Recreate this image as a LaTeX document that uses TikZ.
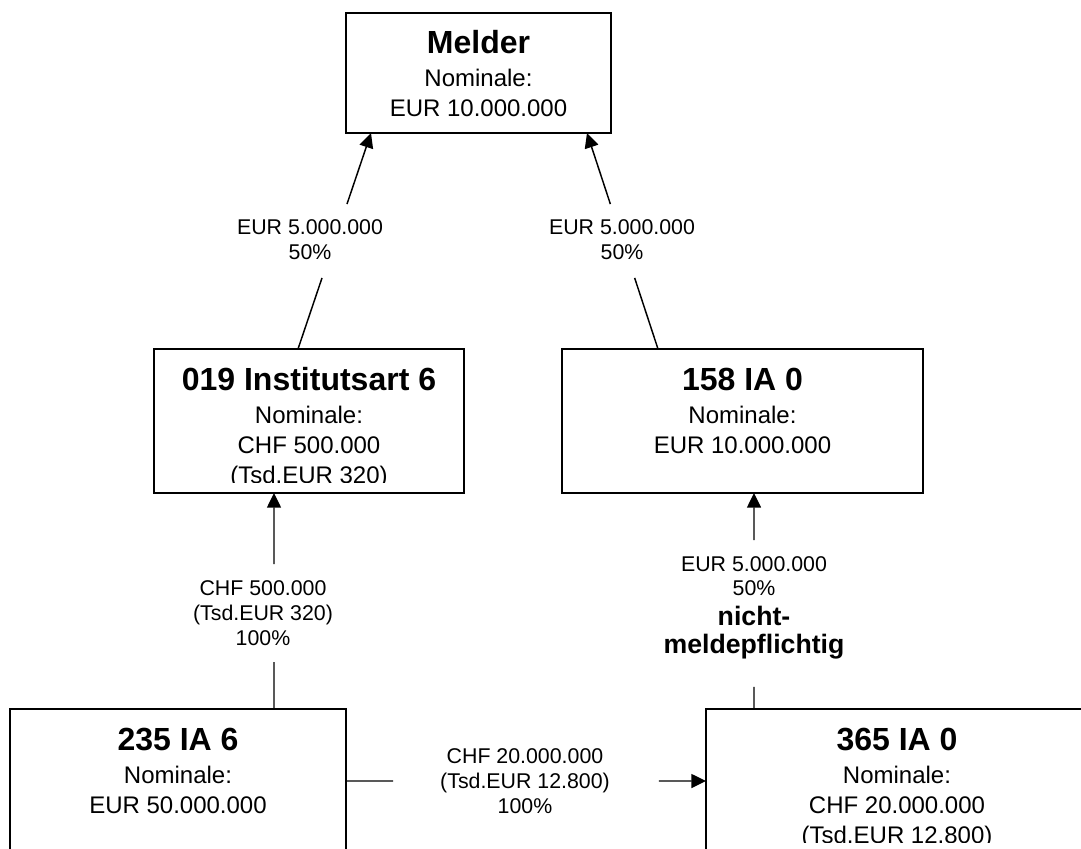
\documentclass[tikz,border=0pt]{standalone}
\usepackage{fontspec}
\setmainfont{Liberation Sans}
\usetikzlibrary{arrows.meta,calc,fit}

% one line of a multi-line text block: size, baseline distance, text
\newcommand\entryline[3]{{\fontsize{#1}{#2}\selectfont #3\par}}

\tikzset{
  frame/.style={draw=black, line width=1.5pt, inner sep=0pt, outer sep=0pt, rectangle},
  entry/.style={anchor=base, inner sep=0pt, outer sep=0pt, align=flush center, text=black},
  conn/.style={draw=black, line width=1.1pt},
  arrowconn/.style={conn, -{Triangle[length=11pt,width=10.5pt]}},
  tag/.style={anchor=base, inner sep=0pt, outer sep=0pt, align=flush center,
    text width=240pt, text=black, font=\fontsize{16}{18.75}\selectfont},
}

\begin{document}
\begin{tikzpicture}[x=0.75pt, y=-0.75pt]
\useasboundingbox (0,0) rectangle (1081,849);
\fill[white] (0,0) rectangle (1081,849);
\clip (0,0) rectangle (1081,849);

% ---------------- boxes ----------------
\node[frame, fit={(346,13) (611,133)}]  (melder) {};
\node[frame, fit={(154,349) (464,493)}] (b019) {};
\node[frame, fit={(562,349) (923,493)}] (b158) {};
\node[frame, fit={(10,709) (346,900)}]  (b235) {};
\node[frame, fit={(706,709) (1088,900)}] (b365) {};

% ---------------- box texts ----------------
\node[entry, text width=198.75pt] (t-melder) at ($(melder.north)+(0,41)$)
  {\entryline{24}{28}{\bfseries Melder}\entryline{18}{24.75}{Nominale:}\entryline{18}{22.5}{EUR 10.000.000}};

\begin{scope}
  \clip (b019.north west) rectangle ($(b019.north east)+(0,133)$);
  \node[entry, text width=232.5pt] (t019) at ($(b019.north)+(0,41)$)
    {\entryline{24}{28}{\bfseries 019 Institutsart 6}\entryline{18}{24.75}{Nominale:}\entryline{18}{22.5}{CHF 500.000}\entryline{18}{22.5}{(Tsd.EUR 320)}};
\end{scope}

\node[entry, text width=270.75pt] (t158) at ($(b158.north)+(0,41)$)
  {\entryline{24}{28}{\bfseries 158 IA 0}\entryline{18}{24.75}{Nominale:}\entryline{18}{22.5}{EUR 10.000.000}};

\node[entry, text width=252pt] (t235) at ($(b235.north)+(0,41)$)
  {\entryline{24}{28}{\bfseries 235 IA 6}\entryline{18}{24.75}{Nominale:}\entryline{18}{22.5}{EUR 50.000.000}};

\begin{scope}
  \clip (b365.north west) rectangle ($(b365.north east)+(0,133)$);
  \node[entry, text width=286.5pt] (t365) at ($(b365.north)+(0,41)$)
    {\entryline{24}{28}{\bfseries 365 IA 0}\entryline{18}{24.75}{Nominale:}\entryline{18}{22.5}{CHF 20.000.000}\entryline{18}{22.5}{(Tsd.EUR 12.800)}};
\end{scope}

% ---------------- connectors ----------------
% 019 -> Melder
\coordinate (l-foot) at ($(b019.north west)+(144,0)$);
\coordinate (l-head) at ($(melder.south west)+(25,0)$);
\draw[conn] (l-foot) -- ($(l-foot)!0.329!(l-head)$);
\draw[arrowconn] ($(l-foot)!0.671!(l-head)$) -- (l-head);

% 158 -> Melder
\coordinate (r-foot) at ($(b158.north west)+(96,0)$);
\coordinate (r-head) at ($(melder.south west)+(241,0)$);
\draw[conn] (r-foot) -- ($(r-foot)!0.329!(r-head)$);
\draw[arrowconn] ($(r-foot)!0.671!(r-head)$) -- (r-head);

% 235 -> 019
\coordinate (v1-foot) at ($(b235.north west)+(264,0)$);
\coordinate (v1-head) at ($(b019.south west)+(120,0)$);
\draw[conn] (v1-foot) -- ($(v1-foot)!0.2176!(v1-head)$);
\draw[arrowconn] ($(v1-foot)!0.671!(v1-head)$) -- (v1-head);

% 365 -> 158
\coordinate (v2-foot) at ($(b365.north west)+(48,0)$);
\coordinate (v2-head) at ($(b158.south west)+(192,0)$);
\draw[conn] (v2-foot) -- ($(v2-foot)!0.102!(v2-head)$);
\draw[arrowconn] ($(v2-foot)!0.782!(v2-head)$) -- (v2-head);

% 235 -> 365
\coordinate (h-foot) at ($(b235.north east)+(0,72)$);
\coordinate (h-head) at ($(b365.north west)+(0,72)$);
\draw[conn] (h-foot) -- ($(h-foot)!0.1306!(h-head)$);
\draw[arrowconn] ($(h-foot)!0.8694!(h-head)$) -- (h-head);

% ---------------- connector labels ----------------
\node[tag] (lab-l) at (310,234) {EUR 5.000.000\\50\%};
\node[tag] (lab-r) at (622,234) {EUR 5.000.000\\50\%};
\node[tag] (lab-v1) at (263,595) {CHF 500.000\\(Tsd.EUR 320)\\100\%};
\node[tag] (lab-v2) at (754,571)
  {\entryline{16}{18.75}{EUR 5.000.000}\entryline{16}{18}{50\%}\entryline{20}{22.5}{\bfseries nicht-}\entryline{20}{21}{\bfseries meldepflichtig}};
\node[tag] (lab-h) at (525,763) {CHF 20.000.000\\(Tsd.EUR 12.800)\\100\%};

\end{tikzpicture}
\end{document}
